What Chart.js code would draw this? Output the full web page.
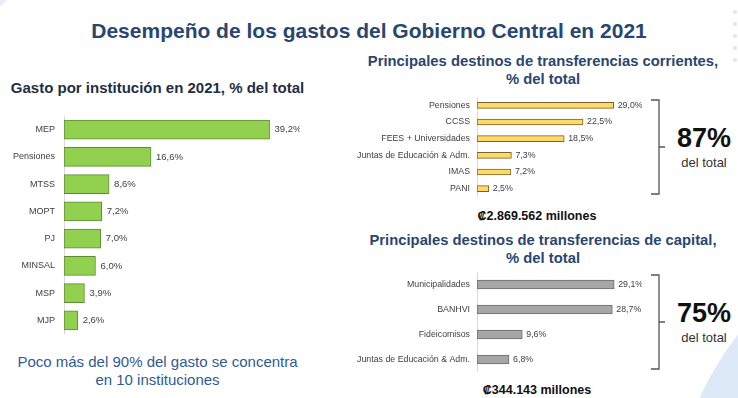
<!DOCTYPE html>
<html>
<head>
<meta charset="utf-8">
<script src="https://cdn.jsdelivr.net/npm/chart.js@4"></script>
<style>
  body { margin: 0; width: 738px; height: 398px; overflow: hidden; background: #fff; font-family: 'Liberation Sans', Arial, sans-serif; position: relative; }
  .abs { position: absolute; }
  .deco1 { left: -260px; top: -330px; width: 330px; height: 370px; border-radius: 50%; background: #e6eff9; }
  .deco2 { left: 671px; top: 211px; width: 638px; height: 638px; border-radius: 50%; background: #dde9f6; }
  .dot { position: absolute; left: 733px; width: 4px; height: 4px; border-radius: 50%; background: #dbe6f3; }
  .title { left: 0; width: 738px; top: 19px; text-align: center; font-weight: bold; font-size: 21px; color: #2a4670; }
  .sub { font-weight: bold; color: #2a4670; text-align: center; line-height: 18px; }
  .box { position: absolute; }
  .big { font-weight: bold; font-size: 27px; color: #111; text-align: center; width: 60px; }
  .small { font-size: 13px; color: #333; text-align: center; width: 60px; }
  .total { font-weight: bold; font-size: 12.5px; color: #111; text-align: center; width: 200px; }
</style>
</head>
<body>
<div class="abs deco1"></div>
<div class="abs deco2"></div>
<div class="dot" style="top:10px"></div>
<div class="dot" style="top:22px"></div>
<div class="dot" style="top:34px"></div>
<div class="dot" style="top:46px"></div>
<div class="dot" style="top:58px"></div>

<div class="abs title">Desempeño de los gastos del Gobierno Central en 2021</div>
<div class="abs sub" style="left:0;width:315px;top:79px;font-size:15px;color:#1f2e45;">Gasto por institución en 2021, % del total</div>
<div class="abs sub" style="left:343px;width:400px;top:52px;font-size:14.8px;">Principales destinos de transferencias corrientes,<br>% del total</div>
<div class="abs sub" style="left:343px;width:400px;top:231px;font-size:14.8px;">Principales destinos de transferencias de capital,<br>% del total</div>

<div class="box" style="left:0;top:116px;width:300px;height:218px;"><canvas id="gastoChart"></canvas></div>
<div class="box" style="left:340px;top:97px;width:302px;height:100px;"><canvas id="corrChart"></canvas></div>
<div class="box" style="left:340px;top:272px;width:302px;height:100px;"><canvas id="capChart"></canvas></div>

<svg class="abs" style="left:645px;top:95px" width="30" height="104">
  <path d="M6 5 H14 V99 H6 M14 52 H20" stroke="#555" stroke-width="1.3" fill="none"/>
</svg>
<div class="abs big" style="left:674px;top:123px;">87%</div>
<div class="abs small" style="left:674px;top:155px;">del total</div>

<svg class="abs" style="left:645px;top:270px" width="30" height="104">
  <path d="M6 5 H14 V99 H6 M14 52 H20" stroke="#555" stroke-width="1.3" fill="none"/>
</svg>
<div class="abs big" style="left:674px;top:298px;">75%</div>
<div class="abs small" style="left:674px;top:330px;">del total</div>

<div class="abs total" style="left:437px;top:209px;">₡2.869.562 millones</div>
<div class="abs total" style="left:437px;top:383px;">₡344.143 millones</div>

<div class="abs" style="left:0;width:315px;top:353px;text-align:center;font-size:15px;color:#2f5b96;line-height:18px;">Poco más del 90% del gasto se concentra<br>en 10 instituciones</div>

<script>
// Gasto por institucion
const instituciones = ['MEP', 'Pensiones', 'MTSS', 'MOPT', 'PJ', 'MINSAL', 'MSP', 'MJP'];
const gastoValores = [39.2, 16.6, 8.6, 7.2, 7.0, 6.0, 3.9, 2.6];

// Transferencias corrientes
const corrientesDestinos = ['Pensiones', 'CCSS', 'FEES + Universidades', 'Juntas de Educación & Adm.', 'IMAS', 'PANI'];
const corrientesValores = [29.0, 22.5, 18.5, 7.3, 7.2, 2.5];

// Transferencias de capital
const capitalDestinos = ['Municipalidades', 'BANHVI', 'Fideicomisos', 'Juntas de Educación & Adm.'];
const capitalValores = [29.1, 28.7, 9.6, 6.8];

Chart.defaults.font.family = "'Liberation Sans', Arial, sans-serif";
Chart.defaults.color = '#404040';

// Etiquetas de valor al final de cada barra
const valueLabels = {
  id: 'valueLabels',
  afterDatasetsDraw(chart, args, opts) {
    const ctx = chart.ctx;
    const meta = chart.getDatasetMeta(0);
    ctx.save();
    ctx.font = opts.size + "px 'Liberation Sans', Arial, sans-serif";
    ctx.fillStyle = '#404040';
    ctx.textBaseline = 'middle';
    meta.data.forEach((bar, i) => {
      const v = chart.data.datasets[0].data[i];
      ctx.fillText(v.toFixed(1).replace('.', ',') + '%', bar.x + opts.offset, bar.y);
    });
    ctx.restore();
  }
};

function makeBarChart(id, labels, values, cfg) {
  const ctx = document.getElementById(id).getContext('2d');
  return new Chart(ctx, {
    type: 'bar',
    data: {
      labels: labels,
      datasets: [{
        data: values,
        backgroundColor: cfg.fill,
        borderColor: cfg.border,
        borderWidth: 1,
        borderSkipped: false,
        barThickness: cfg.thickness
      }]
    },
    options: {
      indexAxis: 'y',
      responsive: true,
      maintainAspectRatio: false,
      animation: false,
      layout: { padding: 0 },
      plugins: {
        legend: { display: false },
        tooltip: { enabled: false },
        valueLabels: { size: cfg.valueSize, offset: cfg.offset }
      },
      scales: {
        x: { display: false, min: 0, max: cfg.max },
        y: {
          // ancho fijo del eje y sin relleno vertical extra
          afterFit: s => { s.width = cfg.axisWidth; s.paddingTop = 0; s.paddingBottom = 0; },
          grid: { display: false, drawTicks: false },
          border: { display: true, color: '#d9d9d9', width: 1 },
          ticks: { padding: cfg.padding, color: '#404040', font: { size: cfg.tickSize } }
        }
      }
    },
    plugins: [valueLabels]
  });
}

makeBarChart('gastoChart', instituciones, gastoValores, {
  fill: '#92d050', border: '#5f8a35', thickness: 19, max: 45,
  axisWidth: 64, padding: 9, tickSize: 9, valueSize: 9.5, offset: 5
});

makeBarChart('corrChart', corrientesDestinos, corrientesValores, {
  fill: '#ffd966', border: '#7a6230', thickness: 6, max: 35,
  axisWidth: 137, padding: 7, tickSize: 8.8, valueSize: 8.8, offset: 4
});

makeBarChart('capChart', capitalDestinos, capitalValores, {
  fill: '#a6a6a6', border: '#6b6b6b', thickness: 9, max: 35,
  axisWidth: 137, padding: 7, tickSize: 8.8, valueSize: 8.8, offset: 4
});
</script>
</body>
</html>
